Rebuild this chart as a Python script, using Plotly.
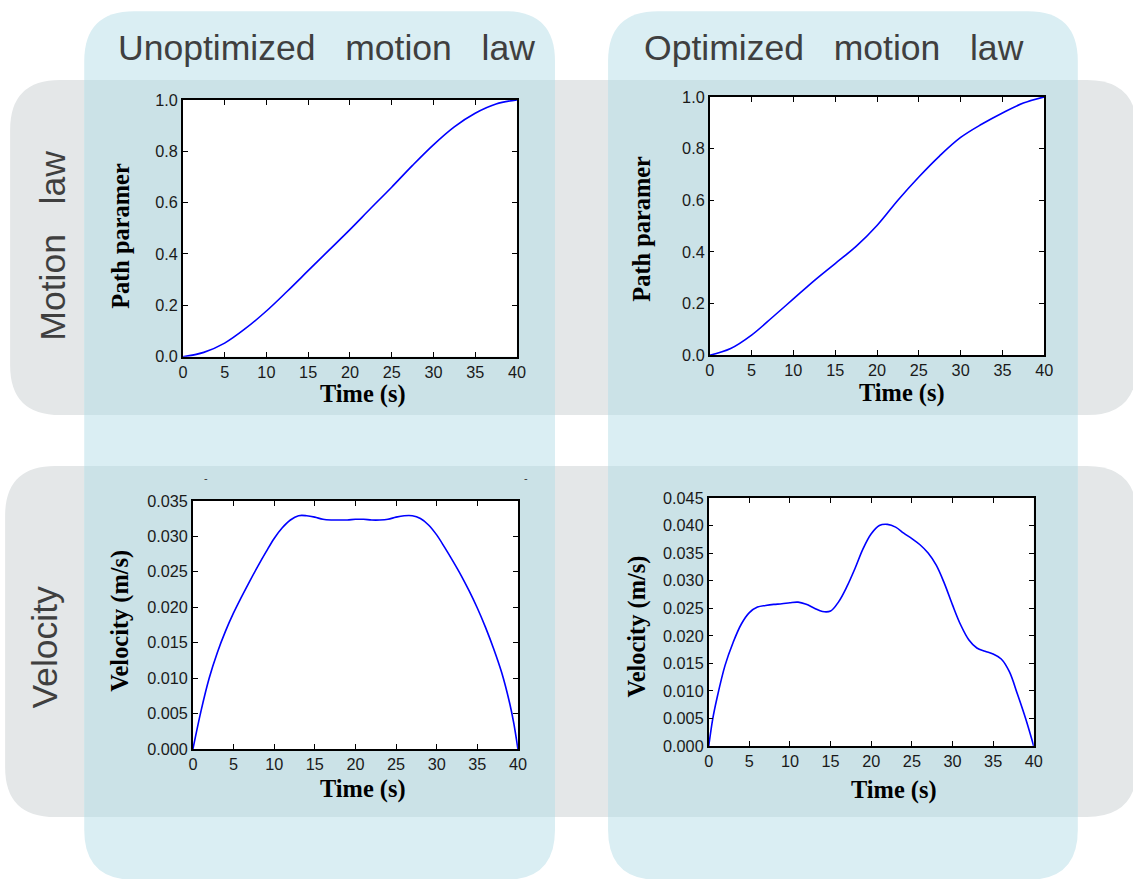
import plotly.graph_objects as go

W, H = 1133, 879
# The page is shown with an 8 px body margin and the captured page (figure + margins)
# is scaled back to 1133x879; map target-picture pixels to figure pixels accordingly.
OFF = 8
KX = (W + 2 * OFF) / W
KY = (H + 2 * OFF) / H
KF = (KX + KY) / 2  # font / width compensation

# ---------------- data ----------------
time_path = [0, 2.5, 5, 7.5, 10, 12.5, 15, 17.5, 20, 22.5, 25, 27.5, 30, 32.5, 35, 37.5, 40]
path_unopt = [0, 0.017, 0.053, 0.11, 0.178, 0.255, 0.335, 0.415, 0.495, 0.578, 0.66, 0.745, 0.825, 0.895, 0.948, 0.984, 1.0]
path_opt = [0, 0.026, 0.078, 0.147, 0.218, 0.289, 0.355, 0.421, 0.502, 0.6, 0.69, 0.772, 0.843, 0.894, 0.938, 0.976, 1.0]

time_vel_unopt = [0, 1, 2, 3, 4, 5, 6, 7, 8, 9, 10, 11, 12, 13, 14, 15, 16, 17, 18, 19, 20,
                  21, 22, 23, 24, 25, 26, 27, 28, 29, 30, 31, 32, 33, 34, 35, 36, 37, 38, 39, 39.5, 40]
vel_unopt = [0, 0.0054, 0.0100, 0.0136, 0.0166, 0.0192, 0.0215, 0.0237, 0.0258, 0.0278, 0.0297,
             0.0312, 0.0323, 0.0329, 0.0329, 0.0327, 0.0324, 0.0323, 0.0323, 0.0323, 0.0324,
             0.0324, 0.0323, 0.0323, 0.0324, 0.0327, 0.0329, 0.0329, 0.0325, 0.0316, 0.0302,
             0.0284, 0.0265, 0.0245, 0.0223, 0.0199, 0.0172, 0.0142, 0.0108, 0.0064, 0.0036, 0]

time_vel_opt = [0, 0.5, 1, 2, 3, 4, 5, 6, 7, 8, 9, 10, 11, 12, 13, 14, 15, 16, 17, 18, 19, 20,
                21, 22, 23, 24, 25, 26, 27, 28, 29, 30, 31, 32, 33, 34, 35, 36, 37, 38, 39, 40]
vel_opt = [0, 0.0050, 0.0086, 0.0146, 0.0188, 0.0221, 0.0242, 0.0252, 0.0255, 0.0257, 0.0258, 0.0260,
           0.0261, 0.0257, 0.0250, 0.0244, 0.0245, 0.0262, 0.0289, 0.0322, 0.0358, 0.0385,
           0.0400, 0.0402, 0.0397, 0.0386, 0.0376, 0.0365, 0.0350, 0.0328, 0.0295, 0.0256,
           0.0220, 0.0193, 0.0178, 0.0172, 0.0167, 0.0158, 0.0135, 0.0094, 0.0050, 0]

col_titles = ["Unoptimized\u00a0\u00a0\u00a0motion\u00a0\u00a0\u00a0law", "Optimized\u00a0\u00a0\u00a0motion\u00a0\u00a0\u00a0law"]
row_titles = ["Motion\u00a0\u00a0\u00a0law", "Velocity"]
x_title = "Time (s)"
y_titles = ["Path paramer", "Path paramer", "Velocity (m/s)", "Velocity (m/s)"]

# ---------------- helpers (target pixels -> paper fractions) ----------------
def px(x):
    return (x * KX - OFF) / W

def py(y):
    return 1 - (y * KY - OFF) / H

def rrect(x0, y0, x1, y1, r):
    p = [
        f"M {px(x0 + r)} {py(y0)}",
        f"L {px(x1 - r)} {py(y0)}",
        f"Q {px(x1)} {py(y0)} {px(x1)} {py(y0 + r)}",
        f"L {px(x1)} {py(y1 - r)}",
        f"Q {px(x1)} {py(y1)} {px(x1 - r)} {py(y1)}",
        f"L {px(x0 + r)} {py(y1)}",
        f"Q {px(x0)} {py(y1)} {px(x0)} {py(y1 - r)}",
        f"L {px(x0)} {py(y0 + r)}",
        f"Q {px(x0)} {py(y0)} {px(x0 + r)} {py(y0)}",
        "Z",
    ]
    return " ".join(p)

BLUE = "#daeef3"
GRAY = "#e4e7e8"
OVER = "#cbe2e7"

cols = [(87, 10, 557, 881), (610, 10, 1079, 881)]
rows = [(13, 79, 1138, 415), (8, 466, 1138, 818)]

shapes = []
for (x0, y0, x1, y1) in rows:
    shapes.append(dict(type="path", xref="paper", yref="paper", path=rrect(x0, y0, x1, y1, 50),
                       fillcolor=GRAY, line=dict(width=0), layer="below"))
for (x0, y0, x1, y1) in cols:
    shapes.append(dict(type="path", xref="paper", yref="paper", path=rrect(x0, y0, x1, y1, 50),
                       fillcolor=BLUE, line=dict(width=0), layer="below"))
for (cx0, _, cx1, _) in cols:
    for (_, ry0, _, ry1) in rows:
        shapes.append(dict(type="rect", xref="paper", yref="paper", x0=px(cx0), x1=px(cx1),
                           y0=py(ry1), y1=py(ry0), fillcolor=OVER, line=dict(width=0), layer="below"))

# plot areas (target pixels): left, top, right, bottom
areas = [(185.5, 99, 519, 356.5), (711.5, 96, 1045.5, 355), (195.5, 501, 520, 750), (710.5, 498, 1035, 747)]
for (l, t, r, b) in areas:
    shapes.append(dict(type="rect", xref="paper", yref="paper", x0=px(l), x1=px(r), y0=py(b), y1=py(t),
                       fillcolor="white", line=dict(width=0), layer="below"))

fig = go.Figure()
series = [(time_path, path_unopt), (time_path, path_opt), (time_vel_unopt, vel_unopt), (time_vel_opt, vel_opt)]
yranges = [[0, 1.0], [0, 1.0], [0, 0.035], [0, 0.045]]
ydticks = [0.2, 0.2, 0.005, 0.005]
yfmts = [".1f", ".1f", ".3f", ".3f"]

tickfont = dict(family="Liberation Sans, Arial, sans-serif", size=16 * KF, color="#1a1a1a")
layout_axes = {}
for i, ((xs, ys), (l, t, r, b)) in enumerate(zip(series, areas)):
    n = "" if i == 0 else str(i + 1)
    fig.add_trace(go.Scatter(x=xs, y=ys, mode="lines",
                             line=dict(color="#0000ff", width=1.6 * KF, shape="spline", smoothing=1.0),
                             xaxis="x" + n, yaxis="y" + n, showlegend=False, hoverinfo="skip"))
    common = dict(showline=True, linecolor="black", linewidth=1.5 * KF, mirror="ticks", ticks="inside",
                  ticklen=5, tickwidth=1.3, tickcolor="black", showgrid=False, zeroline=False,
                  tickfont=tickfont, fixedrange=True)
    layout_axes["xaxis" + n] = dict(domain=[px(l), px(r)], anchor="y" + n, range=[0, 40], dtick=5, tick0=0, **common)
    layout_axes["yaxis" + n] = dict(domain=[py(b), py(t)], anchor="x" + n, range=yranges[i], dtick=ydticks[i],
                                    tick0=0, tickformat=yfmts[i], **common)

annotations = []
head_font = dict(family="Liberation Sans, Arial, sans-serif", size=35 * KF, color="#3f3f3f")
for txt, cx in zip(col_titles, [329, 836]):
    annotations.append(dict(text=txt, x=px(cx), y=py(47), xref="paper", yref="paper", showarrow=False,
                            xanchor="center", yanchor="middle", font=head_font))
for txt, (cx, cy) in zip(row_titles, [(55, 245), (48, 648)]):
    annotations.append(dict(text=txt, x=px(cx), y=py(cy), xref="paper", yref="paper", showarrow=False,
                            xanchor="center", yanchor="middle", textangle=-90, font=head_font))

title_font = dict(family="Liberation Serif, Times New Roman, serif", size=24 * KF, color="black")
xt_pos = [(365, 393.5), (903, 393), (365, 790), (895, 791)]
yt_pos = [(123, 235), (643, 228), (122, 621), (638, 627)]
for (xx, xy), (yx, yy), yt in zip(xt_pos, yt_pos, y_titles):
    annotations.append(dict(text="<b>" + x_title + "</b>", x=px(xx), y=py(xy), xref="paper", yref="paper",
                            showarrow=False, xanchor="center", yanchor="middle", font=title_font))
    annotations.append(dict(text="<b>" + yt + "</b>", x=px(yx), y=py(yy), xref="paper", yref="paper",
                            showarrow=False, xanchor="center", yanchor="middle", textangle=-90, font=title_font))

for cx in [209, 528]:
    annotations.append(dict(text="-", x=px(cx), y=py(478), xref="paper", yref="paper", showarrow=False,
                            xanchor="center", yanchor="middle",
                            font=dict(family="Liberation Sans, Arial, sans-serif", size=11, color="#333")))

fig.update_layout(width=W, height=H, autosize=False, margin=dict(l=0, r=0, t=0, b=0, pad=0),
                  paper_bgcolor="white", plot_bgcolor="white", shapes=shapes, annotations=annotations,
                  **layout_axes)

fig.write_html("out.html", config=dict(displayModeBar=False))
